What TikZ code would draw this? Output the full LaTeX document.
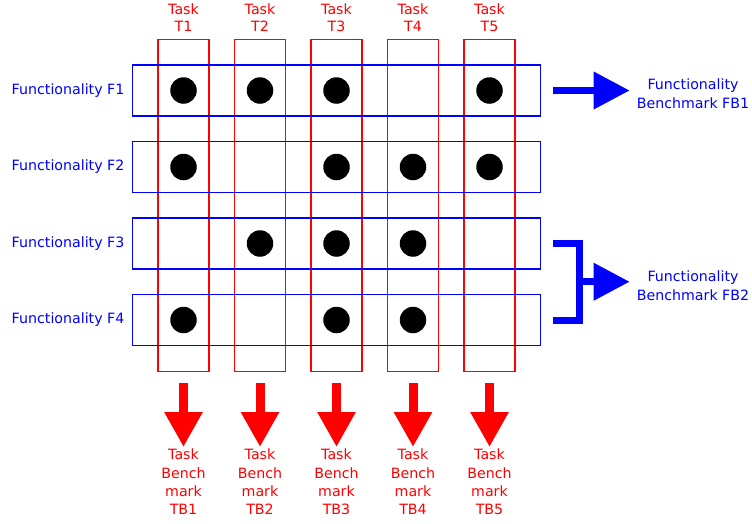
\documentclass[tikz,border=0pt]{standalone}
\usepackage{fontspec}
\setmainfont{DejaVu Sans}
\usetikzlibrary{arrows.meta,calc}
\begin{document}
\begin{tikzpicture}[x=1pt,y=-1pt,
  colbox/.style={draw=red, line width=1.2pt, minimum width=51pt, minimum height=332pt, inner sep=0pt},
  rowbox/.style={draw=blue, line width=1.2pt, minimum width=408pt, minimum height=51pt, inner sep=0pt},
  dot/.style={circle, fill=black, minimum size=26.5pt, inner sep=0pt},
  toplab/.style={text=red, align=center, inner sep=0pt, font=\fontsize{14.2}{17}\selectfont},
  botlab/.style={text=red, align=center, inner sep=0pt, font=\fontsize{14.2}{18.3}\selectfont},
  leftlab/.style={text=blue, inner sep=0pt, font=\fontsize{14.2}{17}\selectfont},
  fblab/.style={text=blue, align=center, inner sep=0pt, font=\fontsize{14.2}{19}\selectfont},
  redarrow/.style={draw=red, fill=red, line width=9pt, -{Triangle[length=35pt,width=36pt]}},
  bluearrow/.style={draw=blue, fill=blue, line width=7pt, -{Triangle[length=36pt,width=36pt]}},
  bracket/.style={draw=blue, line width=7pt, line join=miter}]
\useasboundingbox (0,0) rectangle (752,523);
% columns
\foreach \i/\x in {1/183.5,2/260,3/336.5,4/413,5/489.5}{
  \node[colbox] (c\i) at (\x,205.5) {};
  \node[toplab, anchor=south] (t\i) at ([yshift=7pt]c\i.north) {Task\\T\i};
  \node[botlab, anchor=north] (tb\i) at (\x,449) {Task\\Bench\\mark\\TB\i};
  \draw[redarrow] ([yshift=-11pt]c\i.south) -- ([yshift=2pt]tb\i.north);
}
% rows
\foreach \j/\y in {1/90.5,2/167,3/243.5,4/320}{
  \node[rowbox] (f\j) at (336.7,\y) {};
  \node[leftlab, anchor=east] (l\j) at ([xshift=-7.5pt]f\j.west) {Functionality F\j};
}
% dots
\foreach \i/\j in {1/1,2/1,3/1,5/1, 1/2,3/2,4/2,5/2, 2/3,3/3,4/3, 1/4,3/4,4/4}{
  \node[dot] (d\i\j) at (c\i |- f\j) {};
}
% functionality benchmarks
\node[fblab] (fb1) at (693,93.5) {Functionality\\Benchmark FB1};
\node[fblab] (fb2) at (693,285.5) {Functionality\\Benchmark FB2};
\draw[bluearrow] ([xshift=12pt]f1.east) -- ([xshift=-7pt]fb1.west |- f1.east);
\coordinate (b3) at ([xshift=38.5pt]f3.east);
\coordinate (b4) at ([xshift=38.5pt]f4.east);
\draw[bracket] ([xshift=12pt]f3.east) -- (b3) -- (b4) -- ([xshift=12pt]f4.east);
\coordinate (bm) at ($(b3)!0.5!(b4)$);
\draw[bluearrow] ([xshift=-3.5pt]bm) -- ([xshift=-7pt]fb2.west |- bm);
\end{tikzpicture}
\end{document}
